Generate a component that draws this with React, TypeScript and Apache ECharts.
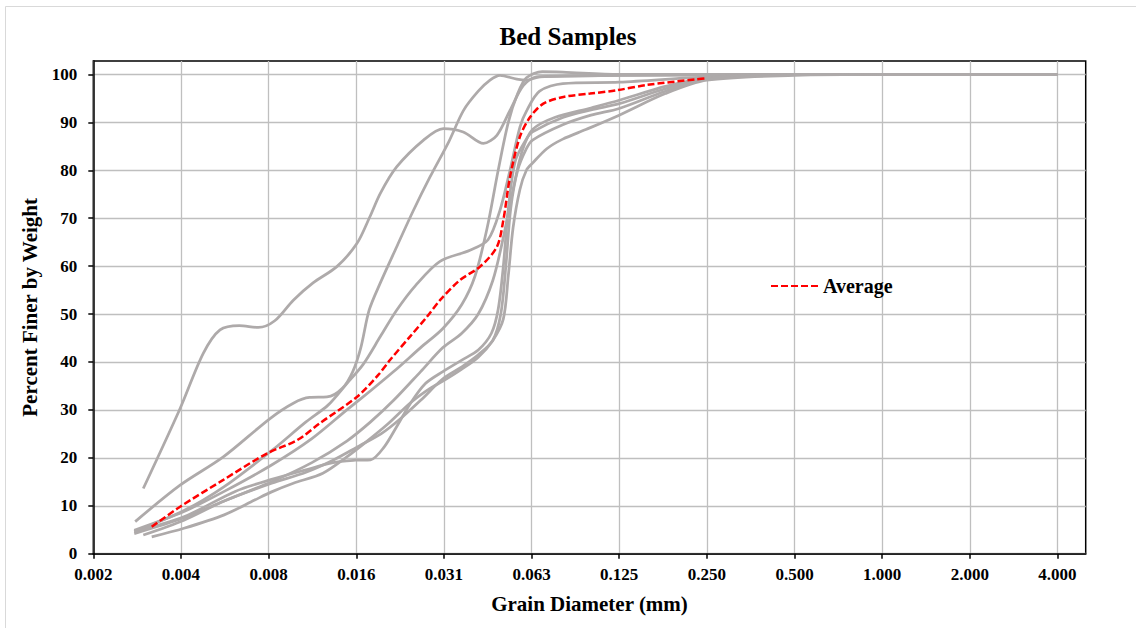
import React, { useEffect, useRef } from "react";
import * as echarts from "echarts";

// Tick labels (grain diameters in mm, log base 2 axis)
const xTickLabels = ["0.002", "0.004", "0.008", "0.016", "0.031", "0.063", "0.125", "0.250", "0.500", "1.000", "2.000", "4.000"];
const yTickLabels = ["0", "10", "20", "30", "40", "50", "60", "70", "80", "90", "100"];

// Each sample: [grain diameter (mm), percent finer by weight]
const sampleA: [number, number][] = [
  [0.0029, 13.6], [0.00388, 30.3], [0.00466, 41.8], [0.00532, 46.7], [0.0062, 47.6], [0.0072, 47.2], [0.0082, 48.6],
  [0.0095, 52.9], [0.0111, 56.5], [0.0134, 59.9], [0.0157, 64.7], [0.0174, 70.3], [0.0189, 75.2], [0.0215, 80.7],
  [0.0266, 86.3], [0.0311, 88.7], [0.0364, 88], [0.0427, 85.6], [0.0475, 87.3], [0.0527, 92.5], [0.0586, 97.7],
  [0.0651, 99.5], [0.125, 99.8], [0.25, 99.9], [0.5, 100], [1, 100], [2, 100], [4, 100],
];
const sampleB: [number, number][] = [
  [0.00272, 6.7], [0.00388, 14.3], [0.00546, 20.2], [0.0079, 28.2], [0.0095, 31.4], [0.0108, 32.6], [0.0124, 32.7],
  [0.014, 34.5], [0.0152, 38], [0.0162, 43], [0.0173, 50.8], [0.0189, 56.5], [0.0215, 64], [0.0245, 71.5],
  [0.028, 78.6], [0.0325, 86], [0.0365, 92.5], [0.041, 96.5], [0.045, 98.8], [0.0487, 99.8], [0.0556, 99],
  [0.0602, 98.8], [0.0666, 99.5], [0.125, 99.8], [0.25, 99.9], [0.5, 100], [1, 100], [2, 100], [4, 100],
];
const sampleC: [number, number][] = [
  [0.0027, 4.9], [0.004, 8.8], [0.0055, 13], [0.008, 18.5], [0.011, 24], [0.0145, 30], [0.0175, 34], [0.021, 38],
  [0.026, 43], [0.031, 47], [0.036, 52], [0.04, 58], [0.044, 68], [0.048, 80], [0.052, 90], [0.056, 96],
  [0.06, 99.3], [0.068, 100.6], [0.08, 100.5], [0.125, 100], [0.25, 100], [0.5, 100], [1, 100], [2, 100], [4, 100],
];
const sampleD: [number, number][] = [
  [0.0027, 4.6], [0.004, 9], [0.0055, 14], [0.008, 21.5], [0.0105, 27.5], [0.0125, 31], [0.0145, 35.5],
  [0.0165, 39.5], [0.0189, 45.3], [0.0215, 50.8], [0.025, 56], [0.0303, 61], [0.0384, 63.3], [0.0443, 65.5],
  [0.0487, 71.7], [0.0527, 80], [0.057, 89], [0.0602, 92.5], [0.0666, 96.5], [0.08, 98.1], [0.125, 98.4],
  [0.25, 99.5], [0.5, 100], [1, 100], [2, 100], [4, 100],
];
const sampleE: [number, number][] = [
  [0.0027, 4.2], [0.004, 7.5], [0.0055, 11], [0.008, 15], [0.011, 19], [0.0145, 23.5], [0.0175, 27.5], [0.021, 32],
  [0.026, 38], [0.031, 43], [0.036, 46], [0.041, 50], [0.046, 57], [0.05, 66], [0.054, 76], [0.058, 84],
  [0.063, 88.5], [0.075, 91], [0.1, 93], [0.125, 94.6], [0.18, 97.5], [0.25, 99.3], [0.5, 100], [1, 100], [2, 100], [4, 100],
];
const sampleF: [number, number][] = [
  [0.0027, 4.6], [0.004, 7.7], [0.006, 13], [0.008, 15.5], [0.0105, 17.5], [0.013, 19], [0.0155, 19.5],
  [0.0175, 19.6], [0.0195, 22.3], [0.0215, 26.5], [0.024, 31.4], [0.027, 35.5], [0.031, 38], [0.036, 40.4],
  [0.041, 42.5], [0.0455, 46], [0.048, 51], [0.05, 60], [0.052, 72], [0.055, 82], [0.06, 86.5], [0.063, 88],
  [0.08, 91], [0.1, 92.6], [0.125, 93.9], [0.18, 97], [0.25, 99.2], [0.5, 100], [1, 100], [2, 100], [4, 100],
];
const sampleG: [number, number][] = [
  [0.0029, 3.9], [0.004, 7], [0.0055, 11], [0.008, 14.7], [0.0105, 17], [0.013, 19.5], [0.016, 22.5], [0.019, 25],
  [0.022, 28], [0.026, 32], [0.031, 36.5], [0.036, 39], [0.041, 41.5], [0.046, 44.5], [0.049, 50], [0.051, 60],
  [0.053, 72], [0.056, 80], [0.06, 84.5], [0.063, 86.3], [0.08, 89.5], [0.1, 91.5], [0.125, 92.9], [0.18, 96.5],
  [0.25, 99], [0.5, 100], [1, 100], [2, 100], [4, 100],
];
const sampleH: [number, number][] = [
  [0.0031, 3.5], [0.004, 5.3], [0.0055, 8.1], [0.007, 11.2], [0.008, 12.9], [0.0095, 14.7], [0.012, 16.8],
  [0.0145, 20.2], [0.0172, 23.7], [0.02, 27], [0.024, 31.5], [0.028, 34.5], [0.031, 36], [0.036, 38.5],
  [0.041, 41], [0.046, 44.5], [0.05, 49], [0.052, 58], [0.054, 68], [0.057, 76], [0.06, 80], [0.063, 81.5],
  [0.0705, 84.5], [0.08, 86.5], [0.096, 88.5], [0.125, 91.5], [0.18, 96], [0.25, 98.8], [0.5, 99.8], [1, 100],
  [2, 100], [4, 100],
];
const averageCurve: [number, number][] = [
  [0.0031, 5.6], [0.00388, 9.8], [0.00546, 15.4], [0.0077, 20.9], [0.0098, 23.7], [0.0117, 27.2], [0.0157, 32.7],
  [0.0186, 37.3], [0.0204, 40.4], [0.0239, 45.3], [0.0273, 49.4], [0.0303, 52.9], [0.0355, 57.1], [0.0416, 59.9],
  [0.0475, 64], [0.05, 69.6], [0.0527, 78.6], [0.057, 87], [0.0618, 91.1], [0.0686, 93.9], [0.0804, 95.3],
  [0.0993, 96], [0.1227, 96.7], [0.1555, 97.8], [0.2308, 99], [0.25, 99.2],
];

const graySamples = [sampleA, sampleB, sampleC, sampleD, sampleE, sampleF, sampleG, sampleH];
const sampleNames = ["Sample 1", "Sample 2", "Sample 3", "Sample 4", "Sample 5", "Sample 6", "Sample 7", "Sample 8"];

const X_MIN_EXP = -9; // log2 of 0.002 tick
const X_MAX = 5; // axis ends at 5 mm
const Y_MAX = 102.8;

export default function App() {
  const ref = useRef<HTMLDivElement>(null);

  useEffect(() => {
    document.body.style.margin = "0";
    const chart = echarts.init(ref.current!, null, { renderer: "svg" });
    const font = "'Liberation Serif', 'Times New Roman', serif";
    const toLog = (pts: [number, number][]) => pts.map(([d, p]) => [Math.log2(d), p]);

    const xTickValues = xTickLabels.map((_, i) => X_MIN_EXP + i);
    const yTickValues = yTickLabels.map((t) => Number(t));

    const series: any[] = graySamples.map((pts, i) => ({
      name: sampleNames[i],
      type: "line",
      data: toLog(pts),
      smooth: 0.3,
      symbol: "none",
      showSymbol: false,
      silent: true,
      z: 2,
      lineStyle: { color: "#AEAAAA", width: 2.75 },
      emphasis: { disabled: true },
    }));
    series.push({
      name: "Average",
      type: "line",
      data: toLog(averageCurve),
      smooth: 0.3,
      symbol: "none",
      showSymbol: false,
      silent: true,
      z: 3,
      lineStyle: { color: "#FF0000", width: 2.5, type: [7, 3] },
      itemStyle: { color: "#FF0000" },
      emphasis: { disabled: true },
    });

    chart.setOption({
      animation: false,
      backgroundColor: "#ffffff",
      title: {
        text: "Bed Samples",
        left: "center",
        top: 19,
        textStyle: { fontFamily: font, fontWeight: "bold", fontSize: 25, color: "#000" },
      },
      legend: {
        data: ["Average"],
        left: 765,
        top: 271,
        itemWidth: 47,
        itemHeight: 14,
        itemGap: 6,
        itemStyle: { opacity: 0 },
        textStyle: { fontFamily: font, fontWeight: "bold", fontSize: 20, color: "#000" },
      },
      graphic: [
        {
          type: "rect",
          silent: true,
          z: -10,
          shape: { x: 5.5, y: 6.5, width: 1140, height: 640 },
          style: { fill: "none", stroke: "#d9d9d9", lineWidth: 1 },
        },
      ],
      grid: {
        left: 93.3,
        right: 50.3,
        top: 61,
        bottom: 74.3,
        show: true,
        borderColor: "#000",
        borderWidth: 1.5,
        backgroundColor: "transparent",
        containLabel: false,
      },
      xAxis: {
        type: "value",
        min: X_MIN_EXP,
        max: Math.log2(X_MAX),
        interval: 1,
        name: "Grain Diameter (mm)",
        nameLocation: "middle",
        nameGap: 40,
        nameTextStyle: { fontFamily: font, fontWeight: "bold", fontSize: 21, color: "#000" },
        axisLine: { show: true, onZero: false, lineStyle: { color: "#000", width: 1.5 } },
        axisTick: { show: true, inside: false, length: 5, customValues: xTickValues, lineStyle: { color: "#000", width: 1.5 } },
        axisLabel: {
          margin: 12,
          customValues: xTickValues,
          fontFamily: font,
          fontWeight: "bold",
          fontSize: 17,
          color: "#000",
          formatter: (v: number) => {
            const r = Math.round(v);
            if (Math.abs(v - r) > 1e-6) return "";
            const i = r - X_MIN_EXP;
            return i >= 0 && i < xTickLabels.length ? xTickLabels[i] : "";
          },
        },
        splitLine: { show: true, lineStyle: { color: "#BFBFBF", width: 1.3 } },
      },
      yAxis: {
        type: "value",
        min: 0,
        max: Y_MAX,
        interval: 10,
        name: "Percent Finer by Weight",
        nameLocation: "middle",
        nameGap: 48,
        nameTextStyle: { fontFamily: font, fontWeight: "bold", fontSize: 21, color: "#000" },
        axisLine: { show: true, onZero: false, lineStyle: { color: "#000", width: 1.5 } },
        axisTick: { show: true, inside: false, length: 5, customValues: yTickValues, lineStyle: { color: "#000", width: 1.5 } },
        axisLabel: {
          margin: 16,
          customValues: yTickValues,
          fontFamily: font,
          fontWeight: "bold",
          fontSize: 17,
          color: "#000",
          formatter: (v: number) => {
            const i = yTickValues.indexOf(Math.round(v * 1000) / 1000);
            return i >= 0 ? yTickLabels[i] : "";
          },
        },
        splitLine: { show: true, lineStyle: { color: "#BFBFBF", width: 1.3 } },
      },
      series,
    });

    return () => chart.dispose();
  }, []);

  return <div ref={ref} style={{ position: "absolute", left: 0, top: 0, width: 1136, height: 628 }} />;
}
